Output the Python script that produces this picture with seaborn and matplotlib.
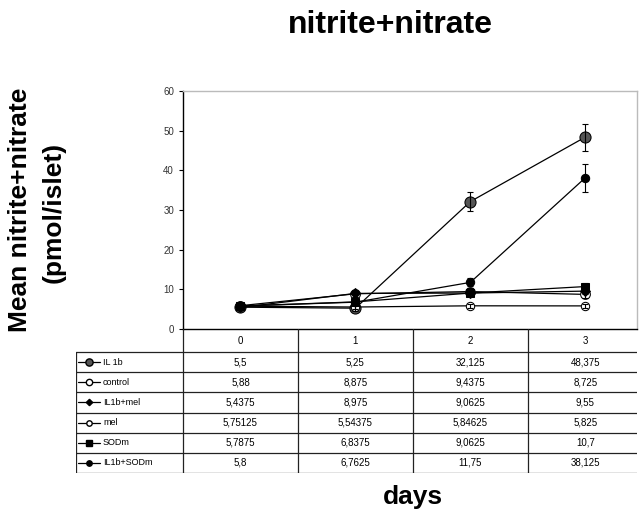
import matplotlib
matplotlib.use('Agg')
import pandas as pd
import matplotlib.pyplot as plt
import seaborn as sns
from matplotlib.lines import Line2D

# Data
days = [0, 1, 2, 3]
groups = ['IL 1b', 'control', 'IL1b+mel', 'mel', 'SODm', 'IL1b+SODm']
il1b = [5.5, 5.25, 32.125, 48.375]
control = [5.88, 8.875, 9.4375, 8.725]
il1b_mel = [5.4375, 8.975, 9.0625, 9.55]
mel = [5.75125, 5.54375, 5.84625, 5.825]
sodm = [5.7875, 6.8375, 9.0625, 10.7]
il1b_sodm = [5.8, 6.7625, 11.75, 38.125]

# error bars
il1b_err = [0.6, 0.8, 2.4, 3.4]
control_err = [0.5, 0.8, 0.8, 0.8]
il1b_mel_err = [0.5, 0.8, 0.8, 0.8]
mel_err = [0.4, 0.5, 0.5, 0.5]
sodm_err = [0.5, 0.7, 0.8, 1.0]
il1b_sodm_err = [0.5, 0.7, 1.0, 3.5]

values = [il1b, control, il1b_mel, mel, sodm, il1b_sodm]
errors = [il1b_err, control_err, il1b_mel_err, mel_err, sodm_err, il1b_sodm_err]

df = pd.DataFrame({
    'day': days * len(groups),
    'group': [g for g in groups for _ in days],
    'value': [v for vals in values for v in vals],
})

# marker style per series (Excel-like)
markers = {'IL 1b': 'o', 'control': 'o', 'IL1b+mel': 'D', 'mel': 'o',
           'SODm': 's', 'IL1b+SODm': 'o'}
faces = {'IL 1b': '#555555', 'control': 'white', 'IL1b+mel': 'black',
         'mel': 'white', 'SODm': 'black', 'IL1b+SODm': 'black'}
sizes = {'IL 1b': 8, 'control': 7, 'IL1b+mel': 5, 'mel': 6, 'SODm': 6,
         'IL1b+SODm': 6}

sns.set_theme(style='white')
plt.rcParams['font.family'] = ['Liberation Sans', 'DejaVu Sans']
plt.rcParams['text.color'] = 'black'

W, H = 639, 512
fig = plt.figure(figsize=(W / 100, H / 100), dpi=100)

# plot area in pixels: x 183..637, y 91..329
ax = fig.add_axes([183 / W, 1 - 329 / H, (637 - 183) / W, (329 - 91) / H])
sns.lineplot(data=df, x='day', y='value', hue='group', style='group',
             hue_order=groups, style_order=groups,
             palette=['black'] * len(groups), markers=markers, dashes=False,
             linewidth=0.9, legend=False, ax=ax)
for line, g in zip(ax.lines, groups):
    line.set_markerfacecolor(faces[g])
    line.set_markeredgecolor('black')
    line.set_markersize(sizes[g])
for vals, err in zip(values, errors):
    ax.errorbar(days, vals, yerr=err, fmt='none', ecolor='black',
                elinewidth=0.8, capsize=2.5, capthick=0.8)

ax.set_xlim(-0.5, 3.45)
ax.set_ylim(0, 60)
ax.set_yticks(range(0, 61, 10))
ax.set_xticks([])
ax.set_xlabel('')
ax.set_ylabel('')
ax.tick_params(axis='y', labelsize=7, colors='black', labelcolor='#333333',
               length=3, direction='out', left=True, width=0.8)
for side in ['top', 'right']:
    ax.spines[side].set_color('#bbbbbb')
    ax.spines[side].set_linewidth(1.0)
for side in ['left', 'bottom']:
    ax.spines[side].set_color('black')
    ax.spines[side].set_linewidth(1.0)

# data table below the plot: x 76..637, y 329..473
x_left = -0.5 - (183 - 76) / 115
tab = fig.add_axes([76 / W, 1 - 473 / H, (637 - 76) / W, (473 - 329) / H])
tab.set_xlim(x_left, 3.45)
tab.set_ylim(144, 0)
tab.axis('off')
head_h = 23
row_h = (144 - head_h) / len(groups)
lc = '#222222'
for b in [-0.5, 0.5, 1.5, 2.5]:
    tab.plot([b, b], [0, 144], color=lc, lw=0.9)
tab.plot([x_left, x_left], [head_h, 144], color=lc, lw=0.9)
for i in range(len(groups) + 1):
    y = head_h + i * row_h
    tab.plot([x_left, 3.45], [y, y], color=lc, lw=0.9)
for d in days:
    tab.text(d, head_h / 2, str(d), ha='center', va='center', fontsize=7)
for i, (g, vals) in enumerate(zip(groups, values)):
    yc = head_h + (i + 0.5) * row_h
    key = Line2D([x_left + 0.02, x_left + 0.21], [yc, yc], color='black',
                 lw=0.9)
    tab.add_line(key)
    tab.plot([x_left + 0.115], [yc], marker=markers[g], color='black',
             markerfacecolor=faces[g], markersize=sizes[g] * 0.65, lw=0)
    tab.text(x_left + 0.235, yc, g, ha='left', va='center', fontsize=6.5)
    for d, v in zip(days, vals):
        tab.text(d, yc, ('%g' % v).replace('.', ','), ha='center',
                 va='center', fontsize=7)

fig.text(390 / W, 1 - 25 / H, 'nitrite+nitrate', ha='center', va='center',
         fontsize=23, fontweight='bold')
fig.text(413 / W, 1 - 497 / H, 'days', ha='center', va='center',
         fontsize=19, fontweight='bold')
fig.text(20 / W, 1 - 210 / H, 'Mean nitrite+nitrate', ha='center',
         va='center', rotation=90, fontsize=19, fontweight='bold')
fig.text(54 / W, 1 - 212 / H, '(pmol/islet)', ha='center', va='center',
         rotation=90, fontsize=19, fontweight='bold')

fig.savefig('out.png', dpi=100)
